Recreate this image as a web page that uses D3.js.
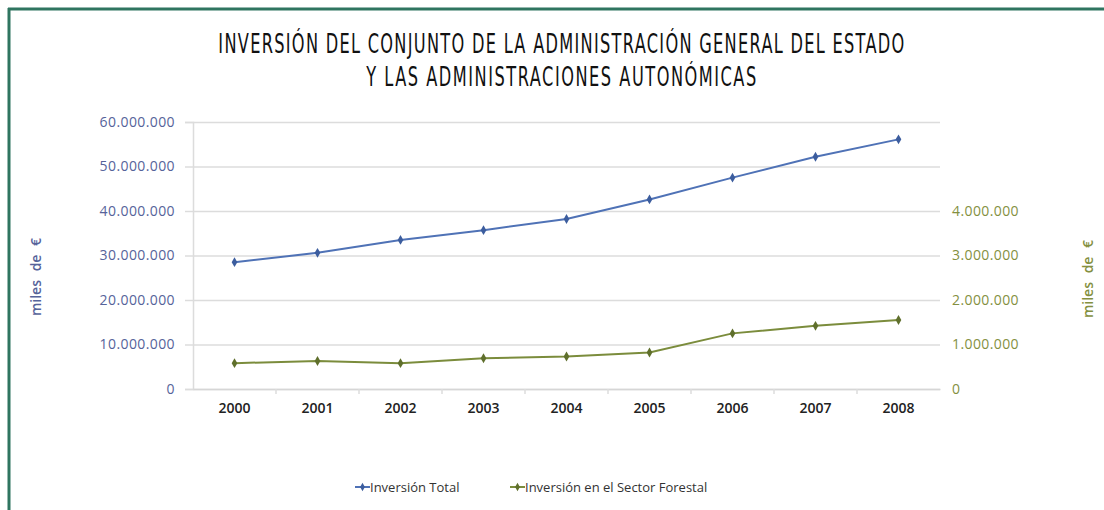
<!DOCTYPE html>
<html>
<head>
<meta charset="utf-8">
<script src="https://cdn.jsdelivr.net/npm/d3@7"></script>
<style>
  body { margin: 0; background: #fff; }
  svg { display: block; }
</style>
</head>
<body>
<div id="chart"></div>
<script>
// data (miles de euros)
const years = ["2000", "2001", "2002", "2003", "2004", "2005", "2006", "2007", "2008"];
const inversionTotal = [28500000, 30600000, 33500000, 35700000, 38200000, 42600000, 47500000, 52200000, 56100000];
const inversionForestal = [580000, 630000, 580000, 690000, 730000, 820000, 1250000, 1420000, 1550000];
const leftTicks = [0, 10000000, 20000000, 30000000, 40000000, 50000000, 60000000];
const rightTicks = [0, 1000000, 2000000, 3000000, 4000000];
const titleLines = ["INVERSIÓN DEL CONJUNTO DE LA ADMINISTRACIÓN GENERAL DEL ESTADO", "Y LAS ADMINISTRACIONES AUTONÓMICAS"];
const seriesNames = ["Inversión Total", "Inversión en el Sector Forestal"];

const blue = "#4f72b6", blueDark = "#3c5d9e";
const olive = "#7b8c3c", oliveDark = "#5f6f2c";
const blueText = "#56639a", oliveText = "#84903f";

const W = 1104, H = 510;
const margin = { top: 122, right: 164, bottom: 121, left: 193 };
const width = W - margin.left - margin.right,
      height = H - margin.top - margin.bottom;

const svg = d3.select("#chart").append("svg")
    .attr("width", W).attr("height", H);

// frame: top and left border only
svg.append("line").attr("x1", 8).attr("x2", W).attr("y1", 9).attr("y2", 9)
    .attr("stroke", "#2f7560").attr("stroke-width", 3);
svg.append("line").attr("x1", 9).attr("x2", 9).attr("y1", 8).attr("y2", H)
    .attr("stroke", "#2f7560").attr("stroke-width", 3);

// title: narrow glyphs (horizontal squeeze) plus letter-spacing to reach the width
const titleWidths = [686, 390];
const squeeze = 0.6;
svg.selectAll(".title").data(titleLines).enter().append("text")
    .attr("class", "title")
    .attr("transform", (d, i) => "translate(562," + (53 + i * 33) + ") scale(" + squeeze + ",1)")
    .attr("text-anchor", "middle")
    .style("font-family", "'DejaVu Sans', sans-serif")
    .style("font-size", "27px")
    .style("fill", "#111")
    .text(d => d)
    .each(function (d, i) {
        const w = this.getComputedTextLength();
        const ls = (titleWidths[i] / squeeze - w) / (d.length - 1);
        d3.select(this).style("letter-spacing", ls + "px");
    });

const g = svg.append("g")
    .attr("transform", "translate(" + margin.left + "," + margin.top + ")");

const x = d3.scaleBand().domain(years).range([0, width]);
const yL = d3.scaleLinear().domain([0, 60000000]).range([height, 0]);
const yR = d3.scaleLinear().domain([0, 6000000]).range([height, 0]);

const fmt = v => d3.format(",")(v).replace(/,/g, ".");

// gridlines + left ticks
g.append("g")
    .call(d3.axisLeft(yL).tickValues(leftTicks).tickSize(-width).tickFormat(""))
    .call(a => a.select(".domain").remove())
    .selectAll("line").attr("stroke", "#dcdcdc").attr("stroke-width", 1.5);
g.append("g")
    .call(d3.axisLeft(yL).tickValues(leftTicks).tickSize(8).tickPadding(10).tickFormat(fmt))
    .call(a => a.select(".domain").attr("stroke", "#dcdcdc").attr("stroke-width", 1.5))
    .call(a => a.selectAll("line").attr("stroke", "#dcdcdc").attr("stroke-width", 1.5))
    .selectAll("text")
    .style("font-family", "'Open Sans', sans-serif")
    .style("font-size", "14px")
    .style("letter-spacing", "0.4px")
    .attr("fill", blueText);

// right axis (labels only)
g.append("g")
    .attr("transform", "translate(" + width + ",0)")
    .call(d3.axisRight(yR).tickValues(rightTicks).tickSize(0).tickPadding(12).tickFormat(fmt))
    .call(a => a.select(".domain").remove())
    .selectAll("text")
    .style("font-family", "'Open Sans', sans-serif")
    .style("font-size", "14px")
    .style("letter-spacing", "0.4px")
    .attr("fill", oliveText);

// x axis
const xAxis = g.append("g")
    .attr("transform", "translate(0," + height + ")")
    .call(d3.axisBottom(x).tickSize(0).tickPadding(14));
xAxis.select(".domain").attr("stroke", "#d6d6d6").attr("stroke-width", 1.5);
xAxis.selectAll("text")
    .style("font-family", "'Open Sans', sans-serif")
    .style("font-size", "14px")
    .style("font-weight", "600")
    .attr("fill", "#222");
// small ticks at category boundaries
g.selectAll(".xb").data(years.slice(1)).enter().append("line")
    .attr("x1", d => x(d)).attr("x2", d => x(d))
    .attr("y1", height).attr("y2", height + 5)
    .attr("stroke", "#dcdcdc").attr("stroke-width", 1.5);

const cx = d => x(d) + x.bandwidth() / 2;

function paint(values, yScale, color, markColor) {
    const pts = values.map((v, i) => ({ year: years[i], value: v }));
    g.append("path")
        .datum(pts)
        .attr("fill", "none")
        .attr("stroke", color)
        .attr("stroke-width", 2)
        .attr("d", d3.line().x(d => cx(d.year)).y(d => yScale(d.value)));
    g.selectAll(null).data(pts).enter().append("path")
        .attr("transform", d => "translate(" + cx(d.year) + "," + yScale(d.value) + ")")
        .attr("d", d3.symbol(d3.symbolDiamond, 28))
        .attr("fill", markColor);
}
paint(inversionTotal, yL, blue, blueDark);
paint(inversionForestal, yR, olive, oliveDark);

// axis titles
function axisTitle(xPos, yPos, color) {
    svg.append("text")
        .attr("transform", "translate(" + xPos + "," + yPos + ") rotate(-90)")
        .attr("text-anchor", "middle")
        .style("font-family", "'Open Sans', sans-serif")
        .style("font-size", "14px").style("font-weight", "600")
        .style("word-spacing", "5px")
        .attr("fill", color)
        .text("miles de €");
}
axisTitle(41, 277, blueText);
axisTitle(1093, 279, oliveText);

// legend
const legendX = [355, 510];
const legendColors = [[blue, blueDark], [olive, oliveDark]];
const lg = svg.selectAll(".leg").data(seriesNames).enter().append("g")
    .attr("transform", (d, i) => "translate(" + legendX[i] + ",487)");
lg.append("line").attr("x1", 0).attr("x2", 15)
    .attr("stroke", (d, i) => legendColors[i][0]).attr("stroke-width", 2);
lg.append("path").attr("transform", "translate(7.5,0)")
    .attr("d", d3.symbol(d3.symbolDiamond, 20))
    .attr("fill", (d, i) => legendColors[i][1]);
lg.append("text").attr("x", 15).attr("y", 5)
    .style("font-family", "'Open Sans', sans-serif")
    .style("font-size", "13px")
    .attr("fill", "#333")
    .text(d => d);
</script>
</body>
</html>
